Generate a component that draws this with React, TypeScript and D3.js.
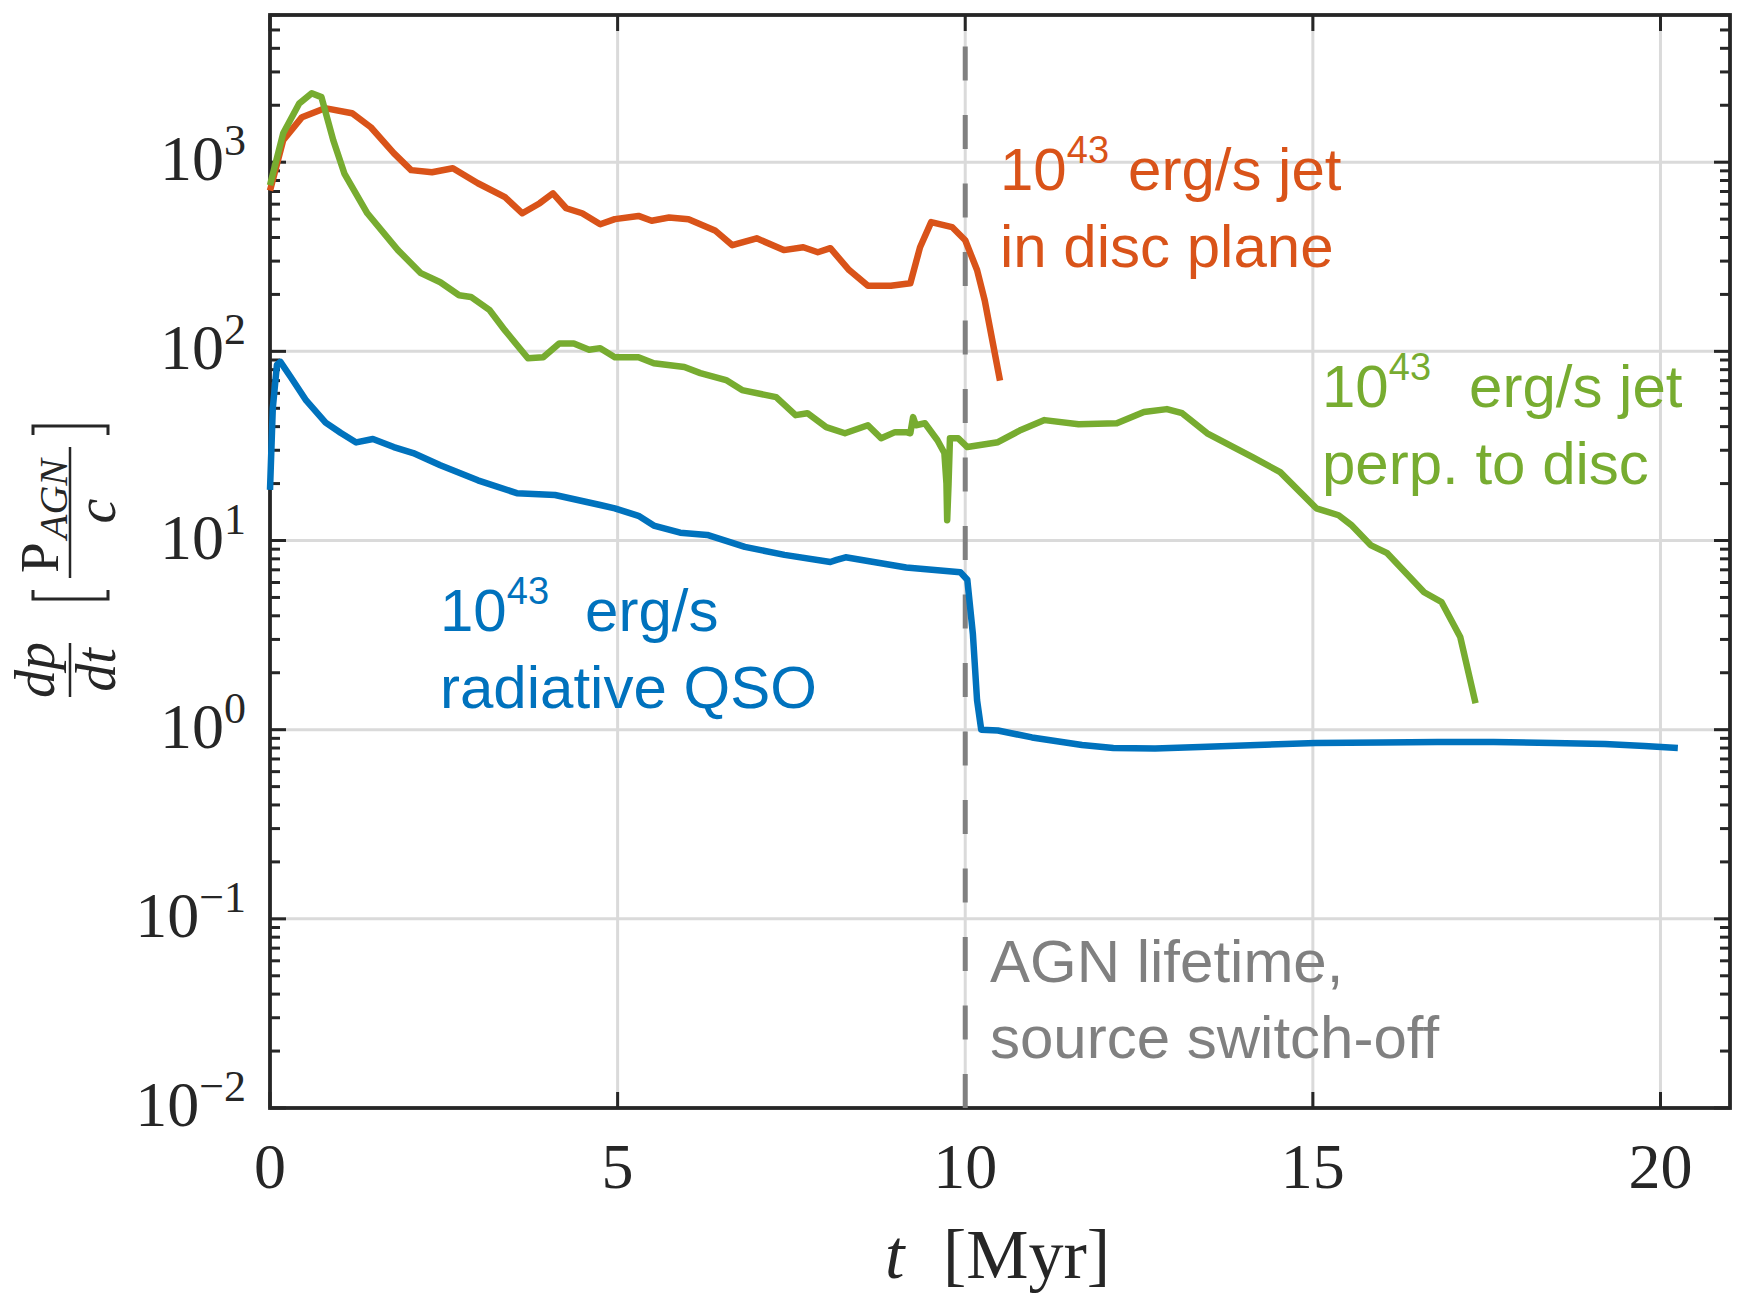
import React from 'react';
import * as d3 from 'd3';

const W = 1738;
const H = 1303;
const PLOT = { left: 270, right: 1730, top: 15, bottom: 1108 };

const xDomain: [number, number] = [0, 21];
const yDomain: [number, number] = [0.01, 6000];
const xTicks = [0, 5, 10, 15, 20];
const yExponents = [-2, -1, 0, 1, 2, 3];
const switchOffTime = 10;

// 10^43 erg/s radiative QSO (blue)
const qsoT = [0, 0.04, 0.1, 0.15, 0.3, 0.52, 0.8, 1.02, 1.24, 1.48, 1.78, 2.06, 2.45, 2.99, 3.55, 4.1, 4.75, 4.96, 5.3, 5.52, 5.9, 6.29, 6.83, 7.4, 8.06, 8.15, 8.28, 9.15, 9.93, 10.03, 10.11, 10.17, 10.23, 10.47, 10.96, 11.68, 12.13, 12.73, 13.38, 14.2, 15.04, 16.0, 16.79, 17.6, 18.45, 19.2, 19.77, 20.25];
const qsoV = [18.5, 50, 85, 88, 73, 55, 42, 37, 33, 34.4, 31.2, 29, 25, 20.8, 17.8, 17.4, 15.4, 14.8, 13.5, 12.0, 11.0, 10.7, 9.25, 8.4, 7.7, 7.9, 8.15, 7.2, 6.8, 6.2, 3.2, 1.43, 1.0, 0.99, 0.91, 0.83, 0.8, 0.795, 0.81, 0.83, 0.85, 0.855, 0.86, 0.86, 0.85, 0.84, 0.82, 0.8];

// 10^43 erg/s jet in disc plane (orange)
const discT = [0, 0.19, 0.46, 0.79, 1.18, 1.45, 1.78, 2.03, 2.33, 2.63, 2.99, 3.38, 3.63, 3.88, 4.07, 4.26, 4.49, 4.75, 4.96, 5.3, 5.49, 5.74, 6.02, 6.4, 6.65, 7.0, 7.39, 7.67, 7.88, 8.06, 8.33, 8.6, 8.93, 9.21, 9.35, 9.51, 9.81, 10.0, 10.17, 10.28, 10.5];
const discV = [708, 1306, 1730, 1930, 1815, 1530, 1117, 908, 885, 929, 774, 653, 537, 607, 685, 571, 537, 470, 500, 520, 490, 510, 500, 436, 364, 396, 343, 355, 334, 351, 269, 222, 222, 229, 355, 482, 454, 387, 269, 186, 70];

// 10^43 erg/s jet perpendicular to disc (green)
const perpT = [0, 0.19, 0.42, 0.6, 0.74, 0.91, 1.07, 1.4, 1.84, 2.17, 2.45, 2.72, 2.89, 3.16, 3.38, 3.71, 3.93, 4.16, 4.37, 4.59, 4.75, 4.96, 5.3, 5.52, 5.96, 6.19, 6.56, 6.79, 7.28, 7.56, 7.73, 8.0, 8.27, 8.6, 8.79, 8.99, 9.15, 9.21, 9.25, 9.29, 9.42, 9.6, 9.7, 9.73, 9.74, 9.76, 9.78, 9.9, 10.03, 10.47, 10.8, 11.14, 11.63, 12.18, 12.57, 12.9, 13.12, 13.48, 14.14, 14.53, 15.05, 15.37, 15.55, 15.83, 16.07, 16.6, 16.85, 17.12, 17.34];
const perpV = [755, 1422, 2042, 2317, 2208, 1306, 871, 537, 343, 259, 232, 198, 194, 165, 129, 92, 93, 110, 110, 102, 104, 93, 93, 86.5, 82.6, 76.7, 70.5, 62.4, 57.3, 46, 47.1, 39.8, 36.9, 40.7, 34.7, 37.4, 37.4, 36.9, 44.9, 40.7, 41.7, 33.9, 29, 20, 12.8, 20, 34.7, 34.7, 31.2, 33.1, 38.4, 43.3, 41.2, 41.7, 47.8, 49.5, 47.1, 36.9, 27.5, 23, 14.8, 13.6, 12.1, 9.46, 8.57, 5.33, 4.73, 3.09, 1.38];

const COLORS = { qso: '#0072BD', disc: '#D95319', perp: '#77AC30', grey: '#808080' };
const AXIS = '#262626';
const GRID = '#dadada';
const SERIF = '"Liberation Serif", "DejaVu Serif", serif';
const SANS = '"Liberation Sans", Arial, Helvetica, sans-serif';

type Pt = [number, number];
const zip = (t: number[], v: number[]): Pt[] => t.map((d, i) => [d, v[i]]);

export default function App() {
  const x = d3.scaleLinear().domain(xDomain).range([PLOT.left, PLOT.right]);
  const y = d3.scaleLog().domain(yDomain).range([PLOT.bottom, PLOT.top]);
  const line = d3
    .line<Pt>()
    .x((d) => x(d[0]))
    .y((d) => y(d[1]));

  const majorY = yExponents.map((e) => Math.pow(10, e));
  const minorY = y.ticks().filter((v) => !majorY.some((m) => Math.abs(m - v) / m < 1e-9) && v <= yDomain[1]);

  const series = [
    { key: 'qso', color: COLORS.qso, data: zip(qsoT, qsoV) },
    { key: 'disc', color: COLORS.disc, data: zip(discT, discV) },
    { key: 'perp', color: COLORS.perp, data: zip(perpT, perpV) },
  ];

  const annSize = 60;
  const supSize = 38;

  const Annot = ({ color, ax, ay, gap, rest, line2 }: any) => (
    <g fill={color} fontFamily={SANS} fontSize={annSize}>
      <text x={ax} y={ay}>
        <tspan>10</tspan>
        <tspan dy={-27} fontSize={supSize}>43</tspan>
        <tspan dy={27} dx={gap}>{rest}</tspan>
      </text>
      <text x={ax} y={ay + 77}>{line2}</text>
    </g>
  );

  return (
    <svg
      width={W}
      height={H}
      viewBox={`0 0 ${W} ${H}`}
      style={{ position: 'absolute', left: 0, top: 0, display: 'block', background: '#fff' }}
    >
      <rect x={0} y={0} width={W} height={H} fill="#fff" />
      {/* grid */}
      <g stroke={GRID} strokeWidth={3}>
        {xTicks.filter((t) => t > 0).map((t) => (
          <line key={'gx' + t} x1={x(t)} x2={x(t)} y1={PLOT.top} y2={PLOT.bottom} />
        ))}
        {majorY.filter((v) => v > yDomain[0]).map((v) => (
          <line key={'gy' + v} x1={PLOT.left} x2={PLOT.right} y1={y(v)} y2={y(v)} />
        ))}
      </g>

      {/* axes box and ticks */}
      <g stroke={AXIS} strokeWidth={3}>
        {xTicks.map((t) => (
          <g key={'tx' + t}>
            <line x1={x(t)} x2={x(t)} y1={PLOT.bottom} y2={PLOT.bottom - 16} />
            <line x1={x(t)} x2={x(t)} y1={PLOT.top} y2={PLOT.top + 16} />
          </g>
        ))}
        {majorY.map((v) => (
          <g key={'ty' + v}>
            <line x1={PLOT.left} x2={PLOT.left + 16} y1={y(v)} y2={y(v)} />
            <line x1={PLOT.right} x2={PLOT.right - 16} y1={y(v)} y2={y(v)} />
          </g>
        ))}
        {minorY.map((v) => (
          <g key={'my' + v}>
            <line x1={PLOT.left} x2={PLOT.left + 10} y1={y(v)} y2={y(v)} />
            <line x1={PLOT.right} x2={PLOT.right - 10} y1={y(v)} y2={y(v)} />
          </g>
        ))}
        <rect
          x={PLOT.left}
          y={PLOT.top}
          width={PLOT.right - PLOT.left}
          height={PLOT.bottom - PLOT.top}
          fill="none"
          strokeWidth={3.8}
        />
      </g>

      {/* switch-off line */}
      <line
        x1={x(switchOffTime)}
        x2={x(switchOffTime)}
        y1={y(yDomain[0])}
        y2={y(yDomain[1]) + 22}
        stroke={COLORS.grey}
        strokeWidth={5}
        strokeDasharray="34 34.5"
      />

      {/* data */}
      <g fill="none" strokeWidth={6.5} strokeLinejoin="round" strokeLinecap="butt">
        {series.map((s) => (
          <path key={s.key} d={line(s.data) || ''} stroke={s.color} />
        ))}
      </g>

      {/* tick labels */}
      <g fontFamily={SERIF} fill="#262626">
        {xTicks.map((t) => (
          <text key={'lx' + t} x={x(t)} y={1188} textAnchor="middle" fontSize={64}>
            {t}
          </text>
        ))}
        {yExponents.map((e) => (
          <text key={'ly' + e} x={246} y={y(Math.pow(10, e)) + 18} textAnchor="end" fontSize={64}>
            <tspan>10</tspan>
            <tspan dy={-25} fontSize={44}>
              {e < 0 ? '\u2212' + Math.abs(e) : String(e)}
            </tspan>
          </text>
        ))}
      </g>

      {/* x axis title */}
      <g fontFamily={SERIF} fill="#262626" fontSize={70}>
        <text x={885} y={1278} fontStyle="italic">t</text>
        <text x={943} y={1278}>[Myr]</text>
      </g>

      {/* y axis title */}
      <g transform="translate(70,561) rotate(-90)" fontFamily={SERIF} fill="#262626">
        <text x={-109} y={-16} textAnchor="middle" fontStyle="italic" fontSize={56}>dp</text>
        <line x1={-136} x2={-82} y1={0} y2={0} stroke="#262626" strokeWidth={2.5} />
        <text x={-109} y={45} textAnchor="middle" fontStyle="italic" fontSize={56}>dt</text>
        <path d="M -29,-37 H -38 V 38 H -29" fill="none" stroke="#262626" strokeWidth={3} />
        <text x={-12} y={-12} fontSize={55}>P</text>
        <text x={22} y={-3} fontStyle="italic" fontSize={40}>AGN</text>
        <line x1={-17} x2={114} y1={0} y2={0} stroke="#262626" strokeWidth={2.5} />
        <text x={50} y={45} textAnchor="middle" fontStyle="italic" fontSize={56}>c</text>
        <path d="M 126,-37 H 135 V 38 H 126" fill="none" stroke="#262626" strokeWidth={3} />
      </g>

      {/* annotations */}
      <Annot color={COLORS.disc} ax={1000} ay={190} gap={19} rest="erg/s jet" line2="in disc plane" />
      <Annot color={COLORS.perp} ax={1322} ay={407} gap={38} rest="erg/s jet" line2="perp. to disc" />
      <Annot color={COLORS.qso} ax={440} ay={631} gap={36} rest="erg/s" line2="radiative QSO" />
      <g fill={COLORS.grey} fontFamily={SANS} fontSize={annSize}>
        <text x={990} y={982}>AGN lifetime,</text>
        <text x={990} y={1058}>source switch-off</text>
      </g>
    </svg>
  );
}
